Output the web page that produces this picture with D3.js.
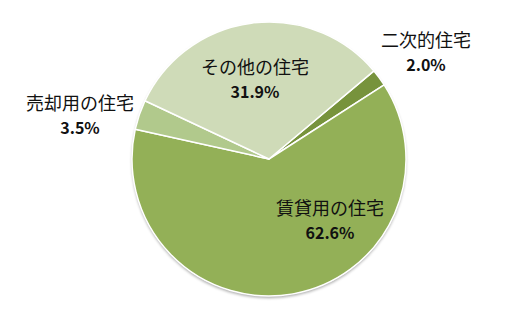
<!DOCTYPE html>
<html>
<head>
<meta charset="utf-8">
<script src="https://cdn.jsdelivr.net/npm/d3@7"></script>
<style>
  body { margin: 0; background: #fff; }
  svg { display: block; }
  .lbl { font-family: "Noto Sans CJK JP", "Noto Sans", sans-serif; fill: #111; }
</style>
</head>
<body>
<script>
var categories = ["二次的住宅", "賃貸用の住宅", "売却用の住宅", "その他の住宅"];
var values = [2.0, 62.6, 3.5, 31.9];
var colors = ["#77933c", "#93b057", "#b1c98c", "#cfdbb8"];

var width = 521, height = 320;
var cx = 269, cy = 159, radius = 137;
// label anchors, relative to centre (best-fit placement like the original)
var labelAt = [[157, -107], [61, 61], [-189, -44], [-14, -80]];

var data = categories.map(function(c, i){
  return {name: c, value: values[i], color: colors[i], lx: labelAt[i][0], ly: labelAt[i][1]};
});

var svg = d3.select('body').append('svg')
            .attr('width', width)
            .attr('height', height);

var defs = svg.append('defs');
var f = defs.append('filter').attr('id', 'shadow')
            .attr('x', '-10%').attr('y', '-10%').attr('width', '120%').attr('height', '120%');
f.append('feGaussianBlur').attr('in', 'SourceAlpha').attr('stdDeviation', 1.5);
f.append('feOffset').attr('dx', 0).attr('dy', 1.5).attr('result', 'b');
f.append('feComponentTransfer').append('feFuncA').attr('type', 'linear').attr('slope', 0.35);
var m = f.append('feMerge');
m.append('feMergeNode');
m.append('feMergeNode').attr('in', 'SourceGraphic');

var pie = d3.pie()
            .sort(null)
            .value(function(d){ return d.value; })
            .startAngle(50 * Math.PI / 180)
            .endAngle(410 * Math.PI / 180);

var arc = d3.arc().innerRadius(0).outerRadius(radius);

var g = svg.append('g').attr('transform', 'translate(' + cx + ',' + cy + ')');

g.append('circle').attr('r', radius).attr('fill', '#fff').attr('filter', 'url(#shadow)');

g.selectAll('path.slice')
  .data(pie(data))
  .enter()
  .append('path')
    .attr('class', 'slice')
    .attr('d', arc)
    .attr('fill', function(d){ return d.data.color; })
    .attr('stroke', '#fff')
    .attr('stroke-width', 1.5)
    .attr('stroke-linejoin', 'round');

var labels = g.selectAll('g.label')
  .data(data)
  .enter()
  .append('g')
    .attr('class', 'label')
    .attr('transform', function(d){ return 'translate(' + d.lx + ',' + d.ly + ')'; });

labels.append('text')
  .attr('class', 'lbl')
  .attr('text-anchor', 'middle')
  .attr('y', -5)
  .style('font-size', '18px')
  .text(function(d){ return d.name; });

labels.append('text')
  .attr('class', 'lbl')
  .attr('text-anchor', 'middle')
  .attr('y', 19)
  .style('font-size', '16px')
  .style('font-weight', 'bold')
  .text(function(d){ return d.value.toFixed(1) + '%'; });
</script>
</body>
</html>
